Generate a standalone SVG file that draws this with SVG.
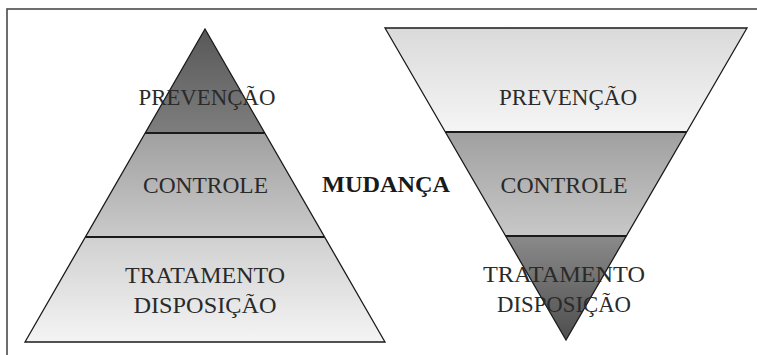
<svg xmlns="http://www.w3.org/2000/svg" width="757" height="355" viewBox="0 0 757 355">
  <defs>
    <linearGradient id="gLT" x1="0" y1="0" x2="0" y2="1"><stop offset="0" stop-color="#585858"/><stop offset="1" stop-color="#7e7e7e"/></linearGradient>
    <linearGradient id="gLM" x1="0" y1="0" x2="0" y2="1"><stop offset="0" stop-color="#a0a0a0"/><stop offset="1" stop-color="#cacaca"/></linearGradient>
    <linearGradient id="gLB" x1="0" y1="0" x2="0" y2="1"><stop offset="0" stop-color="#d0d0d0"/><stop offset="1" stop-color="#f4f4f4"/></linearGradient>
    <linearGradient id="gRT" x1="0" y1="0" x2="0" y2="1"><stop offset="0" stop-color="#dadada"/><stop offset="1" stop-color="#f5f5f5"/></linearGradient>
    <linearGradient id="gRM" x1="0" y1="0" x2="0" y2="1"><stop offset="0" stop-color="#a0a0a0"/><stop offset="1" stop-color="#c8c8c8"/></linearGradient>
    <linearGradient id="gRB" x1="0" y1="0" x2="0" y2="1"><stop offset="0" stop-color="#8a8a8a"/><stop offset="1" stop-color="#4e4e4e"/></linearGradient>
  </defs>
  <style>
    .frame { fill: none; stroke: #4a4a4a; stroke-width: 1.6; }
    .outline { fill: none; stroke: #1a1a1a; stroke-width: 1.3; stroke-linejoin: miter; }
    .divider { stroke: #1a1a1a; stroke-width: 2; }
    .lbl { font-family: "Liberation Serif", "DejaVu Serif", serif; font-size: 24px; fill: #2a2a2a; text-anchor: middle; }
    .bold { font-family: "Liberation Serif", "DejaVu Serif", serif; font-size: 23px; font-weight: bold; fill: #1a1a1a; text-anchor: middle; }
  </style>
  <rect width="757" height="355" fill="#ffffff"/>
  <rect class="frame" x="7" y="9" width="770" height="370"/>

  <g id="left-pyramid">
    <g id="left-prevencao">
      <polygon points="205,29 264.8,133 145.2,133" fill="url(#gLT)"/>
    </g>
    <g id="left-controle">
      <polygon points="145.2,133 264.8,133 324.6,237 85.4,237" fill="url(#gLM)"/>
    </g>
    <g id="left-tratamento">
      <polygon points="85.4,237 324.6,237 385,342 25,342" fill="url(#gLB)"/>
    </g>
    <polygon class="outline" points="205,29 385,342 25,342"/>
    <line class="divider" x1="145.2" y1="133" x2="264.8" y2="133"/>
    <line class="divider" x1="85.4" y1="237" x2="324.6" y2="237"/>
    <text class="lbl" x="207" y="105" textLength="137" lengthAdjust="spacingAndGlyphs">PREVENÇÃO</text>
    <text class="lbl" x="205.5" y="193" textLength="125" lengthAdjust="spacingAndGlyphs">CONTROLE</text>
    <text class="lbl" x="205" y="283" textLength="160" lengthAdjust="spacingAndGlyphs">TRATAMENTO</text>
    <text class="lbl" x="205" y="313" textLength="143" lengthAdjust="spacingAndGlyphs">DISPOSIÇÃO</text>
  </g>

  <g id="right-pyramid">
    <g id="right-prevencao">
      <polygon points="385,28 747,28 686.7,132 445.3,132" fill="url(#gRT)"/>
    </g>
    <g id="right-controle">
      <polygon points="445.3,132 686.7,132 626.3,236 505.7,236" fill="url(#gRM)"/>
    </g>
    <g id="right-tratamento">
      <polygon points="505.7,236 626.3,236 566,340" fill="url(#gRB)"/>
    </g>
    <polygon class="outline" points="385,28 747,28 566,340"/>
    <line class="divider" x1="445.3" y1="132" x2="686.7" y2="132"/>
    <line class="divider" x1="505.7" y1="236" x2="626.3" y2="236"/>
    <text class="lbl" x="568" y="105" textLength="138" lengthAdjust="spacingAndGlyphs">PREVENÇÃO</text>
    <text class="lbl" x="564" y="193" textLength="127" lengthAdjust="spacingAndGlyphs">CONTROLE</text>
    <text class="lbl" x="564" y="282" textLength="162" lengthAdjust="spacingAndGlyphs">TRATAMENTO</text>
    <text class="lbl" x="564" y="312" textLength="134" lengthAdjust="spacingAndGlyphs">DISPOSIÇÃO</text>
  </g>

  <g id="mudanca">
    <text class="bold" x="386" y="192" textLength="128" lengthAdjust="spacingAndGlyphs">MUDANÇA</text>
  </g>

  <g id="connectors"></g>
</svg>
